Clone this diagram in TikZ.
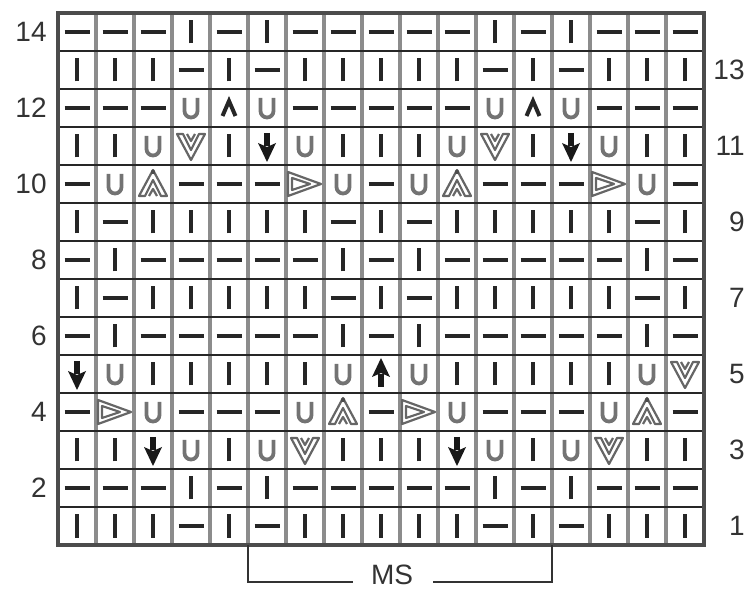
\documentclass[tikz,border=0pt]{standalone}
\usepackage{fontspec}
\setmainfont{Liberation Sans}
\tikzset{
  bar/.style={line width=2.3pt, draw=black!85, line cap=butt},
  ugray/.style={line width=1.9pt, draw=black!55},
  outl/.style={line width=1.1pt, draw=black!60, line join=round},
  vline/.style={line width=2pt, draw=black!45},
  hline/.style={line width=1.4pt, draw=black!85},
  border/.style={line width=1.8pt, draw=black!70},
  brk/.style={line width=1pt, draw=black!80},
  lab/.style={text=black!80, font=\fontsize{14}{16}\selectfont, inner sep=0pt, anchor=east},
  symI/.pic={\draw[bar] (0,-11.5) -- (0,11.5);},
  symD/.pic={\draw[bar] (-12.5,0) -- (12.5,0);},
  symU/.pic={\draw[ugray] (-6.5,10) -- (-6.5,-3) arc[start angle=180, end angle=360, radius=6.5] -- (6.5,10);},
  symC/.pic={\draw[line width=2pt, draw=black!85, line join=miter] (-6.5,-8) -- (0,7) -- (6.5,-8);},
  symN/.pic={\draw[line width=2.6pt, draw=black!90] (0,13) -- (0,0);
             \fill[black!90] (-9,3) -- (0,-1) -- (9,3) -- (0,-16) -- cycle;},
  symP/.pic={\draw[line width=2.6pt, draw=black!90] (0,-13) -- (0,0);
             \fill[black!90] (-9,-3) -- (0,1) -- (9,-3) -- (0,16) -- cycle;},
  symV/.pic={\draw[outl] (-14,12) -- (-8,12) -- (0,-4) -- (8,12) -- (14,12) -- (0,-14) -- cycle;
             \draw[outl] (-4,12) -- (0,5) -- (4,12);},
  symA/.pic={\draw[outl] (-14,-12) -- (-8,-12) -- (0,4) -- (8,-12) -- (14,-12) -- (0,14) -- cycle;
             \draw[outl] (-4,-12) -- (0,-5) -- (4,-12);
             \fill[black!70] (0,12) circle[radius=2.2];},
  symT/.pic={\draw[outl] (-17,12) -- (16,0) -- (-17,-12) -- cycle;
             \draw[outl] (-13,6) -- (5,0) -- (-13,-6) -- cycle;},
}
\begin{document}
\begin{tikzpicture}[x=0.5pt,y=0.5pt]
\useasboundingbox (0,0) rectangle (748,588);
% grid
\foreach \i in {1,...,16} \draw[vline] ({58+38*\i},43) -- ({58+38*\i},575);
\foreach \j in {1,...,13} \draw[hline] (58,{43+38*\j}) -- (704,{43+38*\j});
\draw[border] (58,43) rectangle (704,575);
% symbols
\foreach \r/\row in {
 14/{D,D,D,I,D,I,D,D,D,D,D,I,D,I,D,D,D},
 13/{I,I,I,D,I,D,I,I,I,I,I,D,I,D,I,I,I},
 12/{D,D,D,U,C,U,D,D,D,D,D,U,C,U,D,D,D},
 11/{I,I,U,V,I,N,U,I,I,I,U,V,I,N,U,I,I},
 10/{D,U,A,D,D,D,T,U,D,U,A,D,D,D,T,U,D},
 9/{I,D,I,I,I,I,I,D,I,D,I,I,I,I,I,D,I},
 8/{D,I,D,D,D,D,D,I,D,I,D,D,D,D,D,I,D},
 7/{I,D,I,I,I,I,I,D,I,D,I,I,I,I,I,D,I},
 6/{D,I,D,D,D,D,D,I,D,I,D,D,D,D,D,I,D},
 5/{N,U,I,I,I,I,I,U,P,U,I,I,I,I,I,U,V},
 4/{D,T,U,D,D,D,U,A,D,T,U,D,D,D,U,A,D},
 3/{I,I,N,U,I,U,V,I,I,I,N,U,I,U,V,I,I},
 2/{D,D,D,I,D,I,D,D,D,D,D,I,D,I,D,D,D},
 1/{I,I,I,D,I,D,I,I,I,I,I,D,I,D,I,I,I}}
{
  \foreach \s [count=\c] in \row {
    \pic at ({39+38*\c},{24+38*\r}) {sym\s};
  }
}
% row labels
\foreach \r in {2,4,...,14} \node[lab] (L\r) at (47,{24+38*\r}) {\r};
\foreach \r in {1,3,...,13} \node[lab] (R\r) at (745,{24+38*\r}) {\r};
% MS bracket
\coordinate (msA) at (248,43);
\coordinate (msB) at (552,43);
\node[lab, anchor=base] (ms) at (392,4) {MS};
\draw[brk] (msA) -- (248,6) -- (353,6);
\draw[brk] (msB) -- (552,6) -- (433,6);
\end{tikzpicture}
\end{document}
